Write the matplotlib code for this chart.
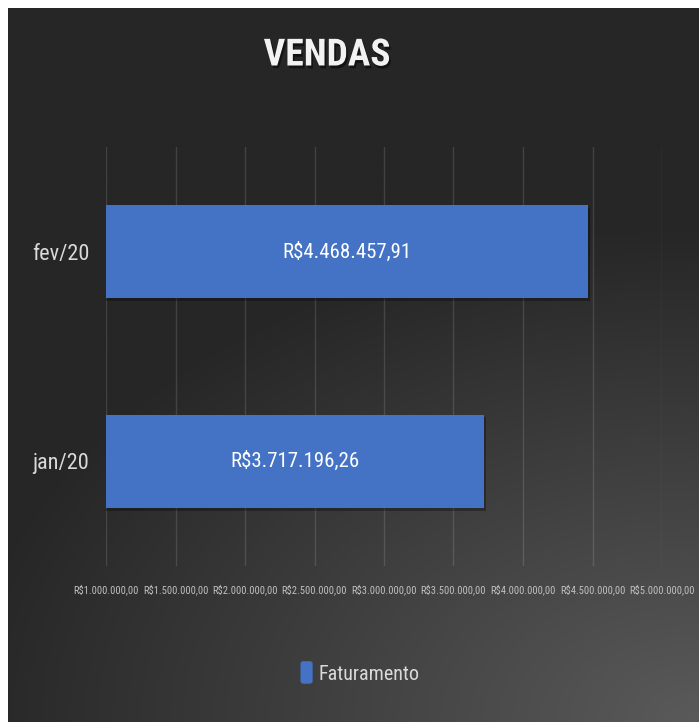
import numpy as np
import matplotlib
matplotlib.use("Agg")
import matplotlib.pyplot as plt
from matplotlib import patheffects as pe
from matplotlib.patches import Rectangle, FancyBboxPatch
from matplotlib.legend_handler import HandlerPatch
from matplotlib import font_manager as fm

# ---- data ----
categories = ["jan/20", "fev/20"]
values = [3717196.26, 4468457.91]
value_labels = ["R$3.717.196,26", "R$4.468.457,91"]
x_ticks = [1000000, 1500000, 2000000, 2500000, 3000000, 3500000, 4000000, 4500000, 5000000]
x_tick_labels = ["R$1.000.000,00", "R$1.500.000,00", "R$2.000.000,00", "R$2.500.000,00",
                 "R$3.000.000,00", "R$3.500.000,00", "R$4.000.000,00", "R$4.500.000,00",
                 "R$5.000.000,00"]
series_name = "Faturamento"
title = "VENDAS"

# font choice
fam = "DejaVu Sans"
for cand in ["Liberation Sans Narrow", "Roboto Condensed", "Open Sans Condensed", "Liberation Sans"]:
    try:
        fm.findfont(cand, fallback_to_default=False)
        fam = cand
        break
    except Exception:
        pass
plt.rcParams["font.family"] = [fam, "DejaVu Sans"]

W, H = 699, 722
fig = plt.figure(figsize=(W / 100, H / 100), dpi=100)
fig.patch.set_facecolor("white")

# background with elliptical gradient (lighter toward bottom-right)
bg = fig.add_axes([8 / W, 0, 1 - 8 / W, 1 - 8 / H])
bg.set_axis_off()
nx, ny = 400, 400
xx, yy = np.meshgrid(np.linspace(0, 1, nx), np.linspace(0, 1, ny))
d = np.sqrt(((1.0 - xx) * 0.65) ** 2 + (1.0 - yy) ** 2)
t = np.clip(1 - d / 0.70, 0, 1)
dark = np.array([0x26, 0x26, 0x26]) / 255
light = np.array([0x5a, 0x5a, 0x5a]) / 255
img = dark[None, None, :] + (light - dark)[None, None, :] * t[..., None]
bg.imshow(img, aspect="auto", extent=[0, 1, 1, 0], origin="upper", interpolation="bilinear")
bg.set_xlim(0, 1)
bg.set_ylim(1, 0)

ax = fig.add_axes([106 / W, 1 - 566 / H, (662 - 106) / W, (566 - 147) / H])
ax.set_facecolor("none")
ypos = np.arange(len(categories))
bars = ax.barh(ypos, values, height=0.445, left=0, color="#4472C4", zorder=3)
for b in bars:
    b.set_path_effects([pe.SimplePatchShadow(offset=(1.5, -2), shadow_rgbFace="black", alpha=0.3),
                        pe.Normal()])
ax.set_xlim(x_ticks[0], x_ticks[-1])
ax.set_ylim(-0.5, 1.5)
ax.set_xticks(x_ticks)
ax.set_xticklabels(x_tick_labels, fontsize=7.6, color="#bfbfbf")
ax.tick_params(axis="x", length=0, pad=13)
ax.set_yticks(ypos)
ax.set_yticklabels(categories, fontsize=16, color="#d9d9d9")
ax.tick_params(axis="y", length=0, pad=12)
for s in ax.spines.values():
    s.set_visible(False)
ax.grid(axis="x", color="#ffffff", alpha=0.13, linewidth=1.0, zorder=0)

for yp, v, lab in zip(ypos, values, value_labels):
    ax.text((x_ticks[0] + v) / 2, yp, lab, ha="center", va="center",
            fontsize=15, color="white", zorder=5)

fig.text(327 / W, 1 - 55 / H, title, ha="center", va="center", fontsize=27,
         fontweight="bold", color="#f2f2f2",
         path_effects=[pe.withSimplePatchShadow(offset=(1.2, -2), shadow_rgbFace="black", alpha=0.5)])

class RoundHandler(HandlerPatch):
    def create_artists(self, legend, orig_handle, xdescent, ydescent, width, height, fontsize, trans):
        p = FancyBboxPatch((xdescent + width * 0.25, ydescent - height * 0.3), width * 0.55, height * 1.6,
                           boxstyle="round,pad=0,rounding_size=2", facecolor="#4472C4",
                           edgecolor="none", transform=trans)
        return [p]

handle = Rectangle((0, 0), 1, 1, facecolor="#4472C4")
leg = fig.legend([handle], [series_name], loc="center", bbox_to_anchor=(357 / W, 1 - 674 / H),
                 frameon=False, fontsize=14.5, labelcolor="#d9d9d9",
                 handler_map={Rectangle: RoundHandler()}, handlelength=1.1, handletextpad=0.05)

fig.savefig("out.png", dpi=100, facecolor=fig.get_facecolor())
